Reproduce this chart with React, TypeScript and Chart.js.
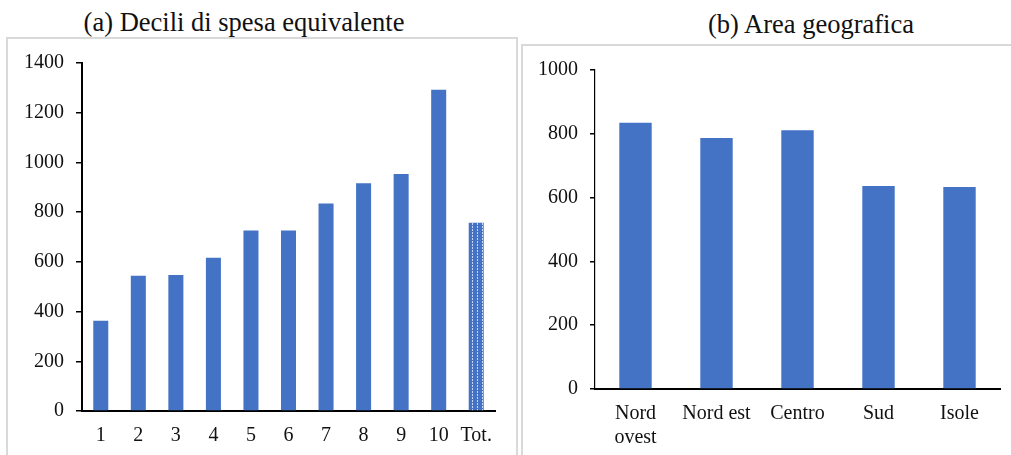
import React, { useEffect, useRef } from 'react';
import { Chart, registerables } from 'chart.js';
Chart.register(...registerables);

const decileLabels = ['1', '2', '3', '4', '5', '6', '7', '8', '9', '10', 'Tot.'];
const decileValues = [363, 544, 547, 617, 726, 726, 835, 916, 953, 1292, 757];
const areaLabels: (string | string[])[] = [['Nord', 'ovest'], 'Nord est', 'Centro', 'Sud', 'Isole'];
const areaValues = [835, 787, 811, 636, 633];

const titleA = '(a) Decili di spesa equivalente';
const titleB = '(b) Area geografica';

const BLUE = '#4472C4';
const FONT = "'Liberation Serif', 'Times New Roman', serif";

function makePattern(): CanvasPattern | string {
  const c = document.createElement('canvas');
  c.width = 5;
  c.height = 3;
  const ctx = c.getContext('2d');
  if (!ctx) return BLUE;
  ctx.fillStyle = BLUE;
  ctx.fillRect(0, 0, 5, 3);
  ctx.fillStyle = '#c9d6ef';
  ctx.fillRect(2, 0, 1, 2);
  return ctx.createPattern(c, 'repeat') || BLUE;
}

function baseOptions(max: number, yWidth: number, xHeight: number, pad: any, yTickLen: number, yBorder: number): any {
  return {
    responsive: false,
    animation: false,
    layout: { padding: pad },
    plugins: { legend: { display: false }, tooltip: { enabled: false }, title: { display: false } },
    scales: {
      x: {
        grid: { display: false, drawTicks: false },
        border: { display: true, color: '#000', width: 2 },
        ticks: { color: '#111', font: { family: FONT, size: 20 }, padding: 13, maxRotation: 0, autoSkip: false },
        afterFit: (s: any) => { s.height = xHeight; },
      },
      y: {
        min: 0,
        max,
        grid: { drawOnChartArea: false, drawTicks: true, tickLength: yTickLen, color: '#000', lineWidth: 1.5 },
        border: { display: true, color: '#000', width: yBorder },
        ticks: {
          stepSize: 200,
          color: '#111',
          font: { family: FONT, size: 20 },
          padding: 12,
          callback: (v: any) => String(v),
        },
        afterFit: (s: any) => { s.width = yWidth; },
      },
    },
  };
}

export default function App() {
  const refA = useRef<HTMLCanvasElement>(null);
  const refB = useRef<HTMLCanvasElement>(null);

  useEffect(() => {
    const pattern = makePattern();
    const colorsA = decileLabels.map((l) => (l === 'Tot.' ? pattern : BLUE));
    const chartA = new Chart(refA.current as HTMLCanvasElement, {
      type: 'bar',
      data: {
        labels: decileLabels,
        datasets: [{ data: decileValues, backgroundColor: colorsA as any, categoryPercentage: 1, barPercentage: 0.4 }],
      },
      options: baseOptions(1400, 82, 44, { top: 26, right: 25, left: 0, bottom: 0 }, 6, 2),
    });
    const chartB = new Chart(refB.current as HTMLCanvasElement, {
      type: 'bar',
      data: {
        labels: areaLabels as any,
        datasets: [{ data: areaValues, backgroundColor: BLUE, categoryPercentage: 1, barPercentage: 0.4 }],
      },
      options: baseOptions(1000, 75, 66, { top: 25, right: 11, left: 0, bottom: 0 }, 5, 1.2),
    });
    return () => {
      chartA.destroy();
      chartB.destroy();
    };
  }, []);

  const titleStyle: React.CSSProperties = {
    position: 'absolute',
    fontFamily: FONT,
    fontSize: 26.5,
    lineHeight: '26px',
    color: '#111',
    whiteSpace: 'nowrap',
    textAlign: 'center',
  };

  return (
    <div style={{ position: 'absolute', left: 0, top: 0, width: 1011, height: 455, overflow: 'hidden', background: '#fff' }}>
      <div style={{ ...titleStyle, left: 44, width: 400, top: 9 }}>{titleA}</div>
      <div style={{ ...titleStyle, left: 611, width: 400, top: 11 }}>{titleB}</div>
      <div style={{ position: 'absolute', left: 6, top: 37, width: 512, height: 430, border: '2px solid #d9d9d9', boxSizing: 'border-box' }} />
      <div style={{ position: 'absolute', left: 521, top: 44, width: 500, height: 430, border: '2px solid #d9d9d9', boxSizing: 'border-box' }} />
      <canvas ref={refA} width={520} height={418} style={{ position: 'absolute', left: 0, top: 37, width: 520, height: 418 }} />
      <canvas ref={refB} width={491} height={410} style={{ position: 'absolute', left: 520, top: 45, width: 491, height: 410 }} />
    </div>
  );
}
